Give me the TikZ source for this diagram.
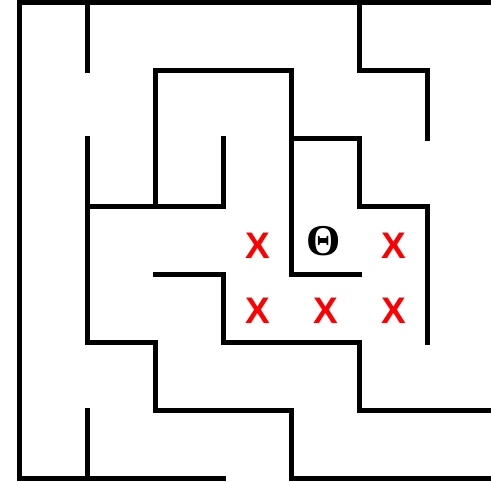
\documentclass[tikz,border=0pt]{standalone}
\usepackage{fontspec}
\newfontfamily\xfont{Liberation Sans}
\newfontfamily\thfont{Liberation Serif}
\tikzset{
  wall/.style={line width=5.5pt, line cap=rect, line join=miter, black},
  xmark/.style={text=red, font=\xfont\bfseries\fontsize{37}{37}\selectfont, inner sep=0pt, anchor=center},
  thmark/.style={text=black, font=\thfont\bfseries\fontsize{44}{44}\selectfont, inner sep=0pt, anchor=center}
}
\begin{document}
\begin{tikzpicture}[x=1pt,y=-1pt]
\useasboundingbox (0,0) rectangle (491,482);
\clip (0,0) rectangle (491,482);
% outer border
\draw[wall] (495.5,2.5) -- (19.5,2.5) -- (19.5,478.5) -- (223.5,478.5);
\draw[wall] (291.5,478.5) -- (495.5,478.5);
\draw[wall] (495.5,2.5) -- (495.5,478.5);
% inner walls
\draw[wall] (87.5,2.5) -- (87.5,70.5);
\draw[wall] (87.5,138.5) -- (87.5,342.5) -- (155.5,342.5) -- (155.5,410.5) -- (291.5,410.5) -- (291.5,478.5);
\draw[wall] (87.5,206.5) -- (223.5,206.5) -- (223.5,138.5);
\draw[wall] (155.5,206.5) -- (155.5,70.5) -- (291.5,70.5) -- (291.5,274.5) -- (359.5,274.5);
\draw[wall] (291.5,138.5) -- (359.5,138.5) -- (359.5,206.5) -- (427.5,206.5) -- (427.5,342.5);
\draw[wall] (359.5,2.5) -- (359.5,70.5) -- (427.5,70.5) -- (427.5,138.5);
\draw[wall] (87.5,410.5) -- (87.5,478.5);
\draw[wall] (155.5,274.5) -- (223.5,274.5) -- (223.5,342.5) -- (359.5,342.5) -- (359.5,410.5) -- (495.5,410.5);
% marks
\node[xmark] (x1) at (257.5,245.5) {X};
\node[xmark] (x2) at (393.5,245.5) {X};
\node[xmark] (x3) at (257.5,310.5) {X};
\node[xmark] (x4) at (325.5,310.5) {X};
\node[xmark] (x5) at (393.5,310.5) {X};
\node[thmark] (th) at (324,241.5) {Θ};
\end{tikzpicture}
\end{document}
